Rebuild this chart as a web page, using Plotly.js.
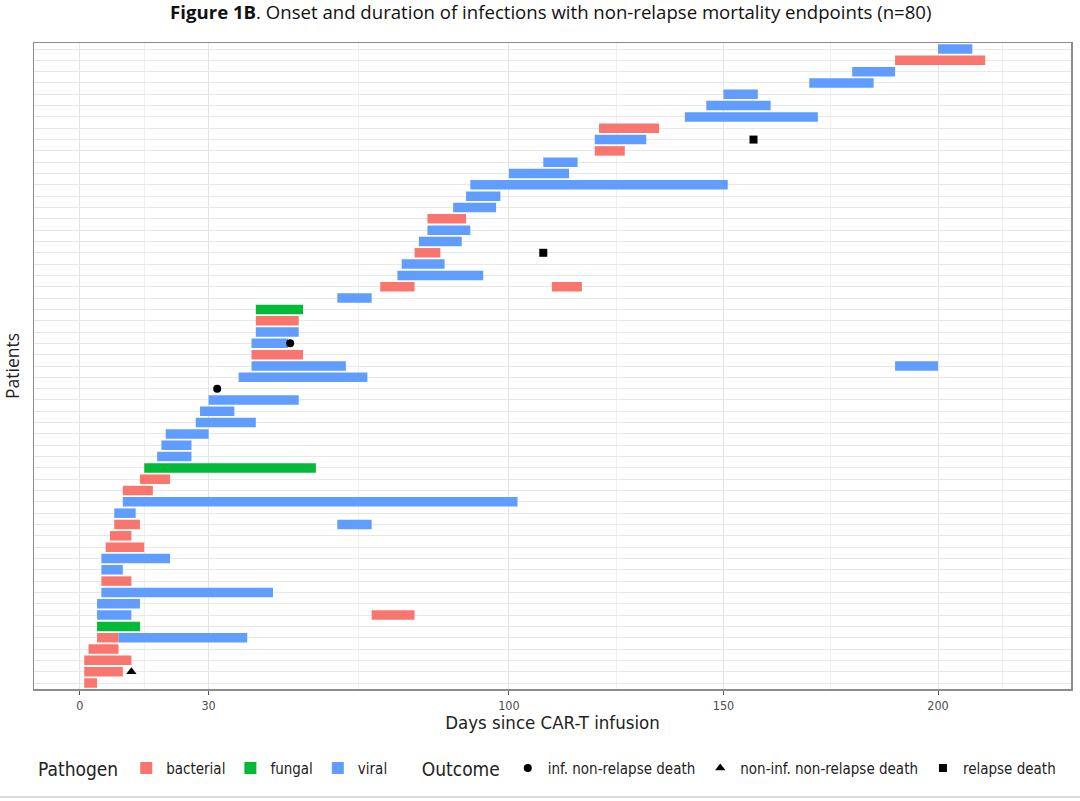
<!DOCTYPE html>
<html>
<head>
<meta charset="utf-8">
<script src="https://cdn.plot.ly/plotly-3.0.1.min.js"></script>
<style>html,body{margin:0;padding:0;background:#fff;}#chart{width:1080px;height:801px;}</style>
</head>
<body>
<div id="chart"></div>
<script>
// Infection episodes: patient row (1 = top), onset day, end day, pathogen
const infRow   = [1,2,3,4,5,6,7,8,9,10,11,12,13,14,15,16,17,18,19,20,21,22,22,23,24,25,26,27,28,29,29,30,32,33,34,35,36,37,38,39,40,41,42,43,43,44,45,46,47,48,49,50,51,51,52,53,53,54,55,56,57];
const infStart = [200,190,180,170,150,146,141,121,120,120,108,100,91,90,87,81,81,79,78,75,74,70,110,60,41,41,41,40,40,40,190,37,30,28,27,20,19,18,15,14,10,10,8,8,60,7,6,5,5,5,5,4,4,68,4,4,9,2,1,1,1];
const infEnd   = [208,211,190,185,158,161,172,135,132,127,116,114,151,98,97,90,91,89,84,85,94,78,117,68,52,51,51,48.5,52,62,200,67,51,36,41,30,26,26,55,21,17,102,13,14,68,12,15,21,10,12,45,14,12,78,14,9,39,9,12,10,4];
const infType  = ["viral","bacterial","viral","viral","viral","viral","viral","bacterial","viral","bacterial","viral","viral","viral","viral","viral","bacterial","viral","viral","bacterial","viral","viral","bacterial","bacterial","viral","fungal","bacterial","viral","viral","bacterial","viral","viral","viral","viral","viral","viral","viral","viral","viral","fungal","bacterial","bacterial","viral","viral","bacterial","viral","bacterial","bacterial","viral","viral","bacterial","viral","viral","viral","bacterial","fungal","bacterial","viral","bacterial","bacterial","bacterial","bacterial"];

// Outcomes: patient row and day of death
const infDeathRow = [27,31];
const infDeathDay = [49,32];
const nonInfDeathRow = [56];
const nonInfDeathDay = [12];
const relapseDeathRow = [9,19];
const relapseDeathDay = [157,108];

const nRows = 57;
const pathogens = ["bacterial","fungal","viral"];
const pathogenColors = {bacterial:"#F8766D", fungal:"#00BA38", viral:"#619CFF"};
const xTicks = [0,30,100,150,200];
const xMinor = [15,65,125,175,215];

const lblFont = "DejaVu Sans Condensed, Liberation Sans Narrow, sans-serif";

const traces = [];
pathogens.forEach(p => {
  const idx = infType.map((t,i)=>t===p?i:-1).filter(i=>i>=0);
  traces.push({
    type:"bar", orientation:"h", name:p, legend:"legend",
    y: idx.map(i=>infRow[i]),
    base: idx.map(i=>infStart[i]),
    x: idx.map(i=>infEnd[i]-infStart[i]),
    width: 0.84,
    marker:{color:pathogenColors[p], line:{width:0}},
    hovertemplate: p+": day %{base} – %{x}<extra></extra>"
  });
});
traces.push({type:"scatter", mode:"markers", name:"inf. non-relapse death", legend:"legend2",
  x:infDeathDay, y:infDeathRow, marker:{symbol:"circle", size:8, color:"#000"}});
traces.push({type:"scatter", mode:"markers", name:"non-inf. non-relapse death", legend:"legend2",
  x:nonInfDeathDay, y:nonInfDeathRow, marker:{symbol:"triangle-up", size:9, color:"#000"}});
traces.push({type:"scatter", mode:"markers", name:"relapse death", legend:"legend2",
  x:relapseDeathDay, y:relapseDeathRow, marker:{symbol:"square", size:8, color:"#000"}});

const rowTicks = Array.from({length:nRows},(_,i)=>i+1);

const layout = {
  width:1080, height:801,
  margin:{l:34, r:9, t:43, b:112},
  paper_bgcolor:"#fff", plot_bgcolor:"#fff",
  barmode:"overlay",
  title:{text:"<b>Figure 1B</b>. Onset and duration of infections with non-relapse mortality endpoints (n=80)",
    font:{family:"Open Sans, sans-serif", size:18.6, color:"#111"}, x:0.51, xanchor:"center", y:0.985, yanchor:"middle", yref:"container"},
  xaxis:{
    range:[-10.7,231], tickmode:"array", tickvals:xTicks, ticktext:xTicks.map(String),
    ticks:"outside", ticklen:4, tickcolor:"#555", tickwidth:1,
    tickfont:{family:lblFont, size:12.5, color:"#4d4d4d"},
    showgrid:true, gridcolor:"#e4e4e4", gridwidth:1, zeroline:false,
    minor:{tickmode:"array", tickvals:xMinor, showgrid:true, gridcolor:"#f0f0f0", gridwidth:1, ticks:""},
    showline:true, linecolor:"#8c8c8c", linewidth:1.5, mirror:true,
    title:{text:"Days since CAR-T infusion", font:{family:lblFont, size:18.5, color:"#222"}, standoff:4}
  },
  yaxis:{
    range:[nRows+0.53, 0.47], tickmode:"array", tickvals:rowTicks, showticklabels:false, ticks:"",
    showgrid:true, gridcolor:"#e8e8e8", gridwidth:1, zeroline:false,
    showline:true, linecolor:"#8c8c8c", linewidth:1.5, mirror:true,
    title:{text:"Patients", font:{family:"Open Sans, sans-serif", size:17.5, color:"#222"}, standoff:8}
  },
  legend:{orientation:"h", x:0.002, xanchor:"left", y:-0.097, yanchor:"top",
    title:{text:"Pathogen", side:"left", font:{family:lblFont, size:19, color:"#222"}},
    font:{family:lblFont, size:15, color:"#222"}, itemwidth:30, tracegroupgap:0, bgcolor:"rgba(0,0,0,0)"},
  legend2:{orientation:"h", x:0.372, xanchor:"left", y:-0.097, yanchor:"top",
    title:{text:"Outcome", side:"left", font:{family:lblFont, size:19, color:"#222"}},
    font:{family:lblFont, size:15, color:"#222"}, itemwidth:30, bgcolor:"rgba(0,0,0,0)"},
  shapes:[{type:"line", xref:"paper", yref:"paper", x0:-0.04, x1:1.02, y0:-0.167, y1:-0.167, line:{color:"#dcdcdc", width:2}}],
  showlegend:true
};

Plotly.newPlot("chart", traces, layout, {displayModeBar:false, staticPlot:true});
</script>
</body>
</html>
